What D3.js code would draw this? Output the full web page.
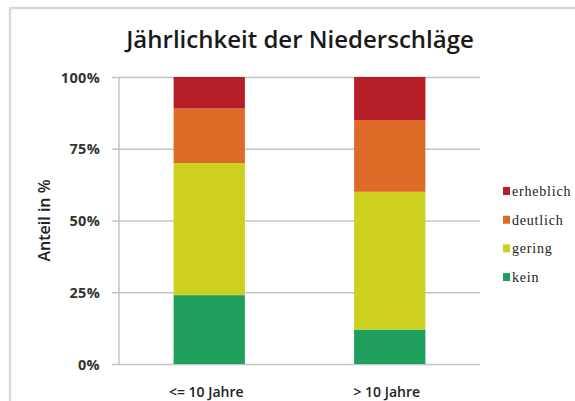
<!DOCTYPE html>
<html>
<head>
<meta charset="utf-8">
<script src="https://cdn.jsdelivr.net/npm/d3@7"></script>
<style>
  html, body { margin: 0; padding: 0; background: #ffffff; }
  svg { display: block; }
</style>
</head>
<body>
<svg id="chart" width="575" height="401"></svg>
<script>
// Share of precipitation impact by recurrence period (stacked to 100 %)
const categories = ["<= 10 Jahre", "> 10 Jahre"];
const seriesNames = ["kein", "gering", "deutlich", "erheblich"];
const kein      = [24, 12];
const gering    = [46, 48];
const deutlich  = [19, 25];
const erheblich = [11, 15];
const tickValues = [0, 25, 50, 75, 100];
const tickLabels = ["0%", "25%", "50%", "75%", "100%"];
const colors = ["#1f9f5c", "#cdd01f", "#dd6b27", "#b71f28"];

const rows = categories.map((c, i) => ({
  cat: c, kein: kein[i], gering: gering[i], deutlich: deutlich[i], erheblich: erheblich[i]
}));

const svg = d3.select("#chart");
const plot = { left: 119, right: 480, top: 77, bottom: 364 };

// outer frame
svg.append("rect")
  .attr("x", 10).attr("y", 8).attr("width", 570).attr("height", 410)
  .attr("fill", "#ffffff").attr("stroke", "#d9d9d9").attr("stroke-width", 2.5);

const x = d3.scaleBand()
  .domain(categories)
  .range([plot.left, plot.right])
  .paddingInner(0.605)
  .paddingOuter(0.3025);

const y = d3.scaleLinear().domain([0, 100]).range([plot.bottom, plot.top]);

// gridlines + tick marks
const yAxis = d3.axisLeft(y)
  .tickValues(tickValues)
  .tickFormat((d, i) => tickLabels[i])
  .tickSize(-(plot.right - plot.left))
  .tickPadding(0);

const gy = svg.append("g")
  .attr("transform", `translate(${plot.left},0)`)
  .call(yAxis);
gy.select(".domain").remove();
gy.selectAll(".tick line")
  .attr("x1", -7)
  .attr("stroke", "#c4c4c4").attr("stroke-width", 1.5);
gy.selectAll(".tick text")
  .attr("x", -19)
  .attr("dy", "0.35em")
  .attr("fill", "#333333")
  .style("font-family", "'Open Sans', sans-serif")
  .style("font-weight", "700")
  .style("font-size", "14.5px")
  .style("letter-spacing", "0.3px");

// vertical axis line
svg.append("line")
  .attr("x1", plot.left).attr("x2", plot.left)
  .attr("y1", plot.top).attr("y2", plot.bottom + 1)
  .attr("stroke", "#c4c4c4").attr("stroke-width", 1.5);

// stacked bars
const stack = d3.stack().keys(seriesNames);
const layers = stack(rows);

svg.append("g").selectAll("g")
  .data(layers)
  .join("g")
  .attr("fill", (d, i) => colors[i])
  .selectAll("rect")
  .data(d => d)
  .join("rect")
  .attr("x", d => x(d.data.cat))
  .attr("width", x.bandwidth())
  .attr("y", d => y(d[1]))
  .attr("height", d => y(d[0]) - y(d[1]));

// category labels
svg.append("g").selectAll("text")
  .data(categories)
  .join("text")
  .attr("x", d => x(d) + x.bandwidth() / 2 - 3)
  .attr("y", 397)
  .attr("text-anchor", "middle")
  .attr("fill", "#222222")
  .style("font-family", "'Open Sans', sans-serif")
  .style("font-weight", "600")
  .style("font-size", "14px")
  .text(d => d);

// title
svg.append("text")
  .attr("x", 300).attr("y", 48)
  .attr("text-anchor", "middle")
  .attr("fill", "#1a1a1a")
  .style("font-family", "'Open Sans', sans-serif")
  .style("font-weight", "600")
  .style("font-size", "24px")
  .text("Jährlichkeit der Niederschläge");

// y axis title
svg.append("text")
  .attr("transform", `translate(50,${(plot.top + plot.bottom) / 2}) rotate(-90)`)
  .attr("text-anchor", "middle")
  .attr("fill", "#222222")
  .style("font-family", "'Open Sans', sans-serif")
  .style("font-weight", "600")
  .style("font-size", "16px")
  .text("Anteil in %");

// legend (top entry = last series)
const legendItems = seriesNames.map((n, i) => ({ name: n, color: colors[i] })).reverse();
const lg = svg.append("g").selectAll("g")
  .data(legendItems)
  .join("g")
  .attr("transform", (d, i) => `translate(503,${191 + i * 28.7})`);
lg.append("rect")
  .attr("x", 0).attr("y", -4).attr("width", 7).attr("height", 8)
  .attr("fill", d => d.color);
lg.append("text")
  .attr("x", 9).attr("dy", "0.35em")
  .attr("fill", "#1a1a1a")
  .style("font-family", "'Liberation Serif', serif")
  .style("font-size", "14px")
  .style("letter-spacing", "0.8px")
  .text(d => d.name);
</script>
</body>
</html>
